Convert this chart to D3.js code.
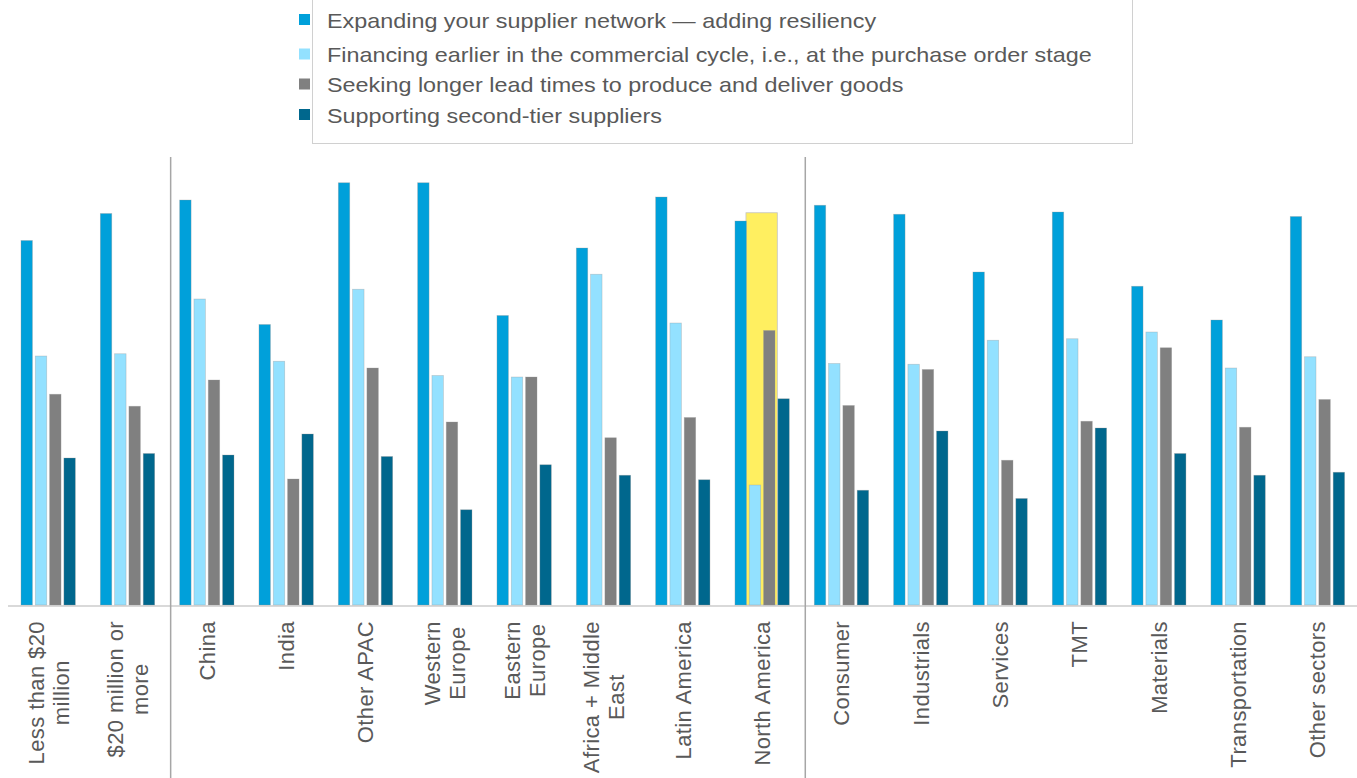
<!DOCTYPE html>
<html>
<head>
<meta charset="utf-8">
<script src="https://cdn.jsdelivr.net/npm/d3@7"></script>
<style>
  html, body { margin: 0; padding: 0; background: #fff; }
  text { font-family: "Liberation Sans", Arial, sans-serif; fill: #595959; }
</style>
</head>
<body>
<script>
// --- Data ---
const categories = [
    'Less than $20\nmillion', '$20 million or\nmore',
    'China', 'India', 'Other APAC', 'Western\nEurope', 'Eastern\nEurope',
    'Africa + Middle\nEast', 'Latin America', 'North America',
    'Consumer', 'Industrials', 'Services', 'TMT', 'Materials', 'Transportation', 'Other sectors'
];
const seriesNames = [
    'Expanding your supplier network \u2014 adding resiliency',
    'Financing earlier in the commercial cycle, i.e., at the purchase order stage',
    'Seeking longer lead times to produce and deliver goods',
    'Supporting second-tier suppliers'
];
const expanding  = [48.6, 52.2, 54.0, 37.4, 56.3, 56.3, 38.6, 47.6, 54.4, 51.2, 53.3, 52.1, 44.4, 52.4, 42.5, 38.0, 51.8];
const financing  = [33.2, 33.5, 40.8, 32.5, 42.1, 30.6, 30.4, 44.1, 37.6, 16.0, 32.2, 32.1, 35.3, 35.5, 36.4, 31.6, 33.1];
const leadTimes  = [28.1, 26.5, 30.0, 16.8, 31.6, 24.4, 30.4, 22.3, 25.0, 36.6, 26.6, 31.4, 19.3, 24.5, 34.3, 23.7, 27.4];
const secondTier = [19.6, 20.2, 20.0, 22.8, 19.8, 12.7, 18.7, 17.3, 16.7, 27.5, 15.3, 23.2, 14.2, 23.6, 20.2, 17.3, 17.7];
const seriesColors = ['#00A0DA', '#93E1FF', '#808080', '#00678D'];
const dividersAfter = ['$20 million or\nmore', 'North America'];
const highlightGroup = 'North America';
const highlightTop = 52.3;

const seriesValues = [expanding, financing, leadTimes, secondTier];

// --- Layout ---
const W = 1357, H = 778;
const baseY = 605;

const svg = d3.select('body').append('svg')
    .attr('width', W).attr('height', H);

const x0 = d3.scaleBand().domain(categories)
    .range([8.5, 1357.1]).paddingInner(0.315).paddingOuter(0.1575);
const x1 = d3.scaleBand().domain(d3.range(seriesNames.length))
    .range([0, x0.bandwidth()]).paddingInner(0.2);
const y = d3.scaleLinear().domain([0, 60]).range([baseY, 155]);

// Baseline
svg.append('line')
    .attr('x1', 8).attr('x2', W).attr('y1', baseY + 1).attr('y2', baseY + 1)
    .attr('stroke', '#d9d9d9').attr('stroke-width', 2);

// Highlight box behind two bars
const hx = x0(highlightGroup);
svg.append('rect')
    .attr('x', hx + x1(1) - 3.3)
    .attr('y', y(highlightTop))
    .attr('width', (x1(2) + x1.bandwidth() + 2.3) - (x1(1) - 3.3))
    .attr('height', baseY - y(highlightTop))
    .attr('fill', '#FFEF60')
    .attr('stroke', '#c4c4c4').attr('stroke-width', 0.8);

// Bars
const groups = svg.append('g').selectAll('g')
    .data(categories)
    .join('g')
    .attr('transform', d => `translate(${x0(d)},0)`);

groups.selectAll('rect')
    .data((d, gi) => seriesValues.map((vals, si) => ({ si, v: vals[gi] })))
    .join('rect')
    .attr('x', d => x1(d.si))
    .attr('y', d => y(d.v))
    .attr('width', x1.bandwidth())
    .attr('height', d => baseY - y(d.v))
    .attr('fill', d => seriesColors[d.si])
    .attr('stroke', 'rgba(150,150,150,0.45)').attr('stroke-width', 0.7);

// Group dividers
dividersAfter.forEach(c => {
    const next = categories[categories.indexOf(c) + 1];
    const x = x0(next) - 9;
    svg.append('line')
        .attr('x1', x).attr('x2', x).attr('y1', 157).attr('y2', H)
        .attr('stroke', '#a6a6a6').attr('stroke-width', 1.5);
});

// Category labels (rotated, multi-line, centred lines)
const labelTop = 621, lineH = 25;
categories.forEach(c => {
    const lines = c.split('\n');
    const g = svg.append('g')
        .attr('transform', `translate(${x0(c) + x0.bandwidth() / 2},${labelTop}) rotate(-90)`);
    const texts = lines.map((ln, i) => g.append('text')
        .attr('text-anchor', 'middle')
        .attr('y', (i - (lines.length - 1) / 2) * lineH)
        .attr('dy', '0.36em')
        .style('font-size', '22px')
        .style('letter-spacing', '0.4px')
        .text(ln));
    const maxLen = d3.max(texts, t => t.node().getComputedTextLength());
    texts.forEach(t => t.attr('x', -maxLen / 2));
});

// Legend
svg.append('rect')
    .attr('x', 312.5).attr('y', -1).attr('width', 820).attr('height', 144.5)
    .attr('fill', '#fff').attr('stroke', '#d0d0d0').attr('stroke-width', 1);

const legendBaselines = [27.5, 62, 92, 122.5];
seriesNames.forEach((name, i) => {
    const by = legendBaselines[i];
    svg.append('rect')
        .attr('x', 299).attr('y', by - 13.5)
        .attr('width', 11).attr('height', 11)
        .attr('fill', seriesColors[i]);
    // legend text is rendered slightly wide in the original
    svg.append('text')
        .attr('transform', `translate(327,${by}) scale(1.14,1)`)
        .style('font-size', '20.5px')
        .text(name);
});
</script>
</body>
</html>
